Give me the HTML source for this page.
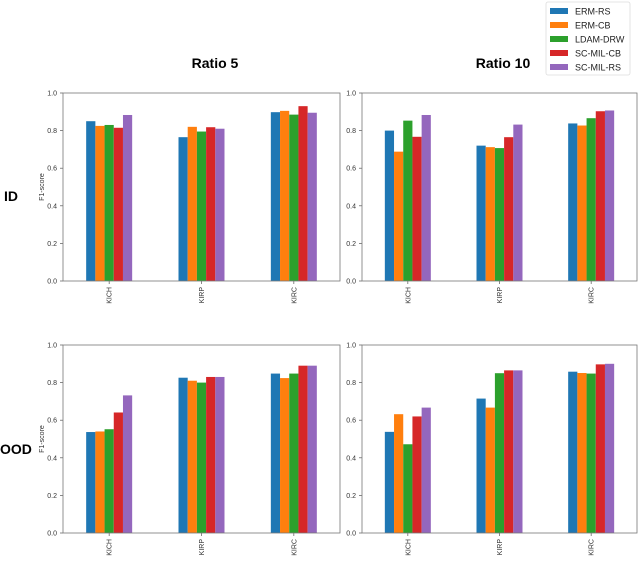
<!DOCTYPE html>
<html><head><meta charset="utf-8"><style>
body{margin:0;background:#fff;width:640px;height:558px;overflow:hidden;font-family:"Liberation Sans",sans-serif}
</style></head><body>
<svg id="fig" width="640" height="558" xmlns="http://www.w3.org/2000/svg" font-family="Liberation Sans, sans-serif"></svg>
<script>
const categories = ["KICH","KIRP","KIRC"];
const seriesNames = ["ERM-RS","ERM-CB","LDAM-DRW","SC-MIL-CB","SC-MIL-RS"];
const colors = ["#1f77b4","#ff7f0e","#2ca02c","#d62728","#9467bd"];
const yTicks = [0.0,0.2,0.4,0.6,0.8,1.0];
// values per panel: [category][series]
const idRatio5 = [[0.85,0.825,0.83,0.815,0.883],[0.765,0.82,0.795,0.818,0.81],[0.898,0.905,0.885,0.93,0.895]];
const idRatio10 = [[0.80,0.688,0.853,0.767,0.883],[0.72,0.712,0.707,0.765,0.832],[0.838,0.827,0.866,0.903,0.907]];
const oodRatio5 = [[0.537,0.54,0.552,0.641,0.732],[0.826,0.81,0.8,0.83,0.83],[0.848,0.824,0.848,0.89,0.89]];
const oodRatio10 = [[0.538,0.632,0.472,0.62,0.667],[0.715,0.667,0.85,0.865,0.865],[0.858,0.851,0.848,0.897,0.9]];

const svg = document.getElementById('fig');
const NS = "http://www.w3.org/2000/svg";
function mk(tag, attrs, parent){const e=document.createElementNS(NS,tag);for(const k in attrs)e.setAttribute(k,attrs[k]);(parent||svg).appendChild(e);return e;}

function panel(name, data, x0, x1, y0, y1, ylabel){
  const g = mk('g',{});
  
  
  const ys = v => y1 - v*(y1-y0);
  const w = x1-x0, step = w/categories.length, bw = 9.2;
  categories.forEach((c,ci)=>{
    const cx = x0 + step*(ci+0.5);
    data[ci].forEach((v,si)=>{
      const r = mk('rect',{x:cx-bw*2.5+si*bw,y:ys(v),width:bw,height:ys(0)-ys(v),fill:colors[si]},g);
      
      
    });
    mk('line',{x1:cx,x2:cx,y1:y1,y2:y1+3,stroke:'#555','stroke-width':0.7},g);
    const t = mk('text',{x:0,y:0,'font-size':7,fill:'#333','text-anchor':'end',transform:`translate(${cx+2.5},${y1+6}) rotate(-90)`},g);
    t.textContent = c;
    
    
  });
  yTicks.forEach(v=>{
    mk('line',{x1:x0-3,x2:x0,y1:ys(v),y2:ys(v),stroke:'#555','stroke-width':0.7},g);
    const t = mk('text',{x:x0-6,y:ys(v)+2.5,'font-size':7,fill:'#333','text-anchor':'end'},g);
    t.textContent = v.toFixed(1);
    
    
  });
  mk('rect',{x:x0,y:y0,width:w,height:y1-y0,fill:'none',stroke:'#777','stroke-width':0.8},g);
  if(ylabel){
    const t = mk('text',{x:0,y:0,'font-size':7,fill:'#333','text-anchor':'middle',transform:`translate(44,${(y0+y1)/2}) rotate(-90)`},g);
    t.textContent = 'F1-score';
    
    
  }
}
panel('panel-id-ratio5', idRatio5, 63, 340, 93, 281, true);
panel('panel-id-ratio10', idRatio10, 362, 637, 93, 281, false);
panel('panel-ood-ratio5', oodRatio5, 63, 340, 345, 533, true);
panel('panel-ood-ratio10', oodRatio10, 362, 637, 345, 533, false);

function label(txt,x,y,name,anchor){
  const t = mk('text',{x:x,y:y,'font-size':14,'font-weight':'bold',fill:'#000','text-anchor':anchor||'middle'});
  t.textContent = txt;
  
  
}
label('Ratio 5',215,68,'column-title-ratio5');
label('Ratio 10',503,68,'column-title-ratio10');
label('ID',4,201,'row-label-id','start');
label('OOD',0,454,'row-label-ood','start');

const lg = mk('g',{});


mk('rect',{x:546,y:2,width:84,height:73,rx:2,fill:'#fff',stroke:'#ddd','stroke-width':0.8},lg);
seriesNames.forEach((s,i)=>{
  const y = 11 + i*14;
  const r = mk('rect',{x:550,y:y-3,width:18,height:6,fill:colors[i]},lg);
  
  
  const t = mk('text',{x:575,y:y+3.5,'font-size':9,fill:'#222'},lg);
  t.textContent = s;
  
  
});
</script>
</body></html>
